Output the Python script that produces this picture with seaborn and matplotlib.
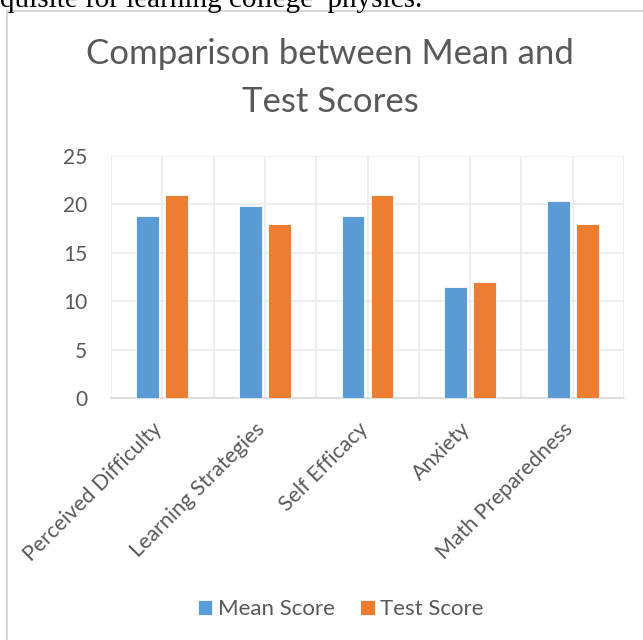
import numpy as np
import pandas as pd
import seaborn as sns
import matplotlib.pyplot as plt
from matplotlib.patches import Rectangle
from matplotlib.transforms import ScaledTranslation

# data
categories = ["Perceived Difficulty", "Learning Strategies", "Self Efficacy",
              "Anxiety", "Math Preparedness"]
mean_score = [18.8, 19.8, 18.8, 11.5, 20.4]
test_score = [21.0, 18.0, 21.0, 12.0, 18.0]
series = ["Mean Score", "Test Score"]
y_ticks = [0, 5, 10, 15, 20, 25]

df = pd.DataFrame({
    "Category": categories * 2,
    "Series": [series[0]] * len(categories) + [series[1]] * len(categories),
    "Score": mean_score + test_score,
})

sns.set_theme(style="white")
plt.rcParams['font.family'] = ['Lato', 'DejaVu Sans']
TXT = "#595959"

fig = plt.figure(figsize=(6.43, 6.40), dpi=100)
ax = fig.add_axes([111 / 643, 1 - 398 / 640, 513 / 643, 242 / 640])

sns.barplot(data=df, x="Category", y="Score", hue="Series",
            palette=["#5B9BD5", "#ED7D31"], saturation=1, width=0.563, gap=0.21,
            edgecolor="white", linewidth=0.6, ax=ax, zorder=3)

ax.set_xlim(-0.5, len(categories) - 0.5)
ax.set_ylim(0, 25)
ax.set_yticks(y_ticks)
ax.set_yticklabels([str(t) for t in y_ticks], fontsize=15, color=TXT)
ax.set_xticks(np.arange(len(categories)))
ax.set_xticks(np.arange(-0.5, len(categories), 0.5), minor=True)
ax.grid(True, which="both", color="#ebebeb", linewidth=1.2, zorder=0)
ax.tick_params(which="both", length=0)
ax.tick_params(axis="y", pad=17)
ax.set_xticklabels([])
ax.set_xlabel("")
ax.set_ylabel("")
for s in ["top", "right", "left"]:
    ax.spines[s].set_visible(False)
ax.spines["bottom"].set_color("#d9d9d9")
ax.spines["bottom"].set_linewidth(1.2)

# rotated category labels ending just right of each category centre
for i, name in enumerate(categories):
    tr = ax.get_xaxis_transform() + ScaledTranslation(-3 / 100, -28 / 100, fig.dpi_scale_trans)
    ax.text(i, 0, name, transform=tr, rotation=45, ha="right", va="center",
            rotation_mode="anchor", fontsize=15.4, color=TXT)

ax.legend_.remove()
handles, labels = ax.get_legend_handles_labels()
fig.legend(handles, labels, loc="center", bbox_to_anchor=(341 / 643, 1 - 609 / 640),
           ncol=2, frameon=False, fontsize=16, labelcolor=TXT,
           handlelength=0.65, handleheight=0.65, handletextpad=0.25,
           columnspacing=1.15)

fig.text(330 / 643, 1 - 78 / 640, "Comparison between Mean and\nTest Scores",
         ha="center", va="center", fontsize=25, color=TXT, linespacing=1.62)

# chart frame and the clipped document text above it
fig.patches.append(Rectangle((7 / 643, -0.1), 1.2, 1.1 - 11 / 640,
                             transform=fig.transFigure, fill=False,
                             edgecolor="#d0d0d0", linewidth=1.2))
fig.text(0, 1 - 7 / 640, "quisite for learning college  physics.",
         ha="left", va="baseline", fontsize=21, color="black",
         family="Liberation Serif")

fig.savefig("out.png", dpi=100)
